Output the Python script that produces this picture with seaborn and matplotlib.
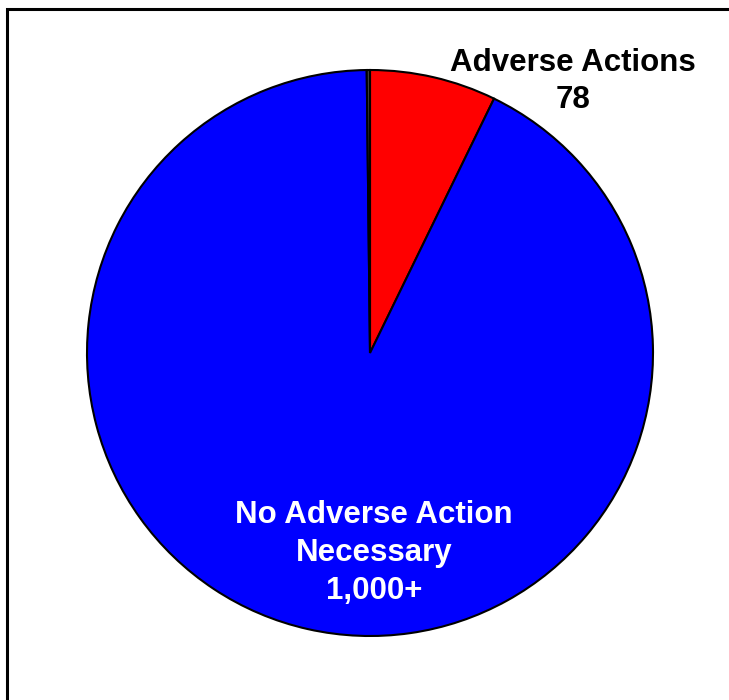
import matplotlib
matplotlib.use("Agg")
import matplotlib.pyplot as plt
import seaborn as sns
from matplotlib.patches import Rectangle

sns.set_theme(style="white")
plt.rcParams['font.family'] = ['Liberation Sans', 'DejaVu Sans']

categories = ["Adverse Actions", "No Adverse Action Necessary", "Other"]
values = [78, 1000, 2]
value_labels = ["78", "1,000+", ""]
colors = ["#FF0000", "#0000FF", "#404040"]

fig = plt.figure(figsize=(7.29, 7.00), dpi=100)
fig.patch.set_facecolor("white")

cx, cy, r = 370 / 729, 1 - 353 / 700, 283
w, h = 2 * r / 729, 2 * r / 700
ax = fig.add_axes([cx - w / 2, cy - h / 2, w, h])

ax.pie(values, colors=colors, startangle=90, counterclock=False,
       wedgeprops=dict(edgecolor="black", linewidth=1.5))
ax.set_xlim(-1.0, 1.0)
ax.set_ylim(-1.0, 1.0)
ax.set_aspect("equal")
ax.axis("off")

ax.text(0.717, 0.96, f"{categories[0]}\n{value_labels[0]}", ha="center", va="center",
        fontsize=22.5, fontweight="bold", color="black", linespacing=1.3)
ax.text(0.014, -0.707, "No Adverse Action\nNecessary\n" + value_labels[1], ha="center", va="center",
        fontsize=22.5, fontweight="bold", color="white", linespacing=1.35)

fig.patches.append(Rectangle((7 / 729, -0.1), 1.2, 1.1 - 9 / 700, transform=fig.transFigure,
                             fill=False, edgecolor="black", linewidth=2.2, zorder=10))

fig.savefig("out.png", dpi=100, facecolor="white")
